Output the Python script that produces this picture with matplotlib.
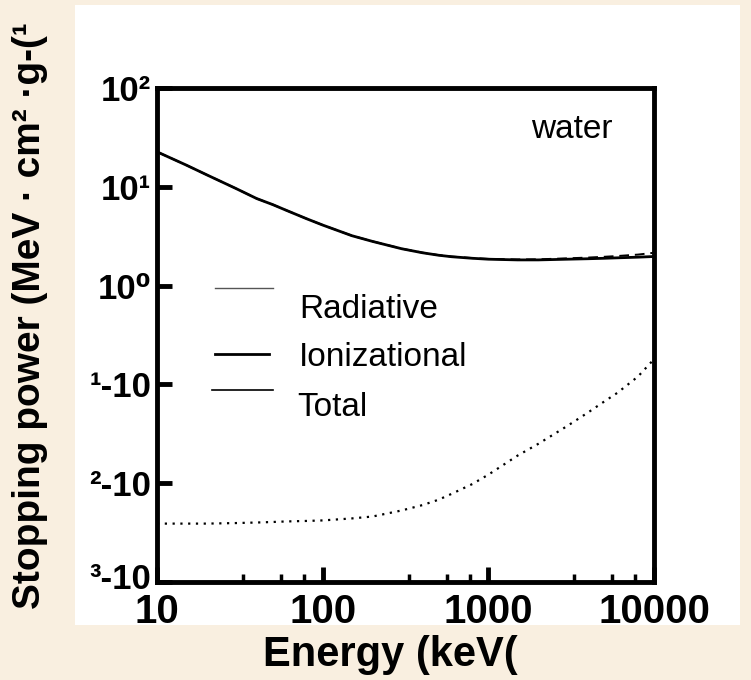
import matplotlib
matplotlib.use("Agg")
import matplotlib.pyplot as plt
import matplotlib.transforms as mtransforms
from matplotlib.lines import Line2D
from matplotlib.patches import Rectangle
import numpy as np

# energies in keV, stopping powers in MeV cm2/g
energy_kev = [10, 15, 20, 30, 40, 50, 60, 80, 100, 150, 200, 300, 400, 500,
              600, 800, 1000, 1500, 2000, 3000, 4000, 5000, 6000, 8000, 10000]
ionizational = [22.6, 16.6, 13.2, 9.6, 7.6, 6.6, 5.8, 4.75, 4.1, 3.2, 2.8,
                2.36, 2.15, 2.03, 1.96, 1.89, 1.85, 1.82, 1.82, 1.85, 1.87,
                1.89, 1.91, 1.94, 1.97]
radiative = [0.0039, 0.0039, 0.0039, 0.00395, 0.004, 0.00405, 0.0041,
             0.00415, 0.0042, 0.0044, 0.0046, 0.0053, 0.006, 0.0068, 0.0078,
             0.0098, 0.0122, 0.019, 0.025, 0.038, 0.052, 0.067, 0.082,
             0.12, 0.18]
total = [i + r for i, r in zip(ionizational, radiative)]

x_ticks = [10, 100, 1000, 10000]
x_tick_labels = ["10", "100", "1000", "10000"]
y_ticks = [1e2, 1e1, 1e0, 1e-1, 1e-2, 1e-3]
y_tick_labels = ["10\u00b2", "10\u00b9", "10\u2070", "\u00b9-10", "\u00b2-10", "\u00b3-10"]
legend_labels = ["Radiative", "Ionizational", "Total"]

BG = "#f9efe0"
FONT = ["Liberation Sans", "DejaVu Sans"]
plt.rcParams["font.family"] = FONT

fig = plt.figure(figsize=(7.51, 6.8), dpi=100, facecolor=BG)
fig.add_artist(Rectangle((75 / 751, 1 - 625 / 680), 665 / 751, 620 / 680,
                         transform=fig.transFigure, facecolor="white",
                         edgecolor="none", zorder=-5))

ax = fig.add_axes([157 / 751, 1 - 582 / 680, 497 / 751, 494 / 680])
ax.set_zorder(2)
ax.set_xscale("log")
ax.set_yscale("log")
ax.set_xlim(10, 10000)
ax.set_ylim(1e-3, 1e2)

ax.plot(energy_kev, ionizational, color="black", linewidth=2.0)
ax.plot(energy_kev, total, color="black", linewidth=1.4, linestyle=(0, (5, 3)))
ax.plot(energy_kev, radiative, color="black", linewidth=1.6, linestyle=(0, (1, 2.5)))

for spine in ax.spines.values():
    spine.set_linewidth(3.5)

ax.set_xticks(x_ticks, labels=x_tick_labels)
minor = [d * f for d in (10, 100, 1000) for f in (3.3, 5.6, 7.7)]
ax.set_xticks(minor, minor=True)
ax.xaxis.set_minor_formatter(matplotlib.ticker.NullFormatter())
ax.set_yticks(y_ticks, labels=y_tick_labels)
ax.yaxis.set_minor_locator(matplotlib.ticker.NullLocator())

ax.tick_params(axis="both", which="major", direction="in", length=11, width=3.5)
ax.tick_params(axis="x", which="minor", direction="in", length=6, width=2.5)
ax.tick_params(axis="x", which="major", pad=8, labelsize=29)
ax.tick_params(axis="y", which="major", pad=4, labelsize=25)
for lab in ax.get_xticklabels() + ax.get_yticklabels():
    lab.set_fontweight("bold")
ax.tick_params(top=False, right=False)

# lift the bottom y label a little so it clears the "10" below it
bottom_lab = ax.get_yticklabels()[-1]
bottom_lab.set_transform(bottom_lab.get_transform()
                         + mtransforms.ScaledTranslation(0, 6 / 100, fig.dpi_scale_trans))

# hand-placed legend, as in the original figure
legend_lines = [(0.117, 0.233, 0.595, "#555555", 1.0),
                (0.117, 0.225, 0.4615, "black", 2.0),
                (0.111, 0.233, 0.389, "black", 1.2)]
for (x0, x1, y, c, lw) in legend_lines:
    ax.add_line(Line2D([x0, x1], [y, y], transform=ax.transAxes, color=c, linewidth=lw))
for label, (tx, ty) in zip(legend_labels, [(0.286, 0.551), (0.286, 0.455), (0.282, 0.354)]):
    ax.text(tx, ty, label, transform=ax.transAxes, fontsize=24, va="center", ha="left")
ax.text(0.752, 0.915, "water", transform=ax.transAxes, fontsize=24, va="center", ha="left")

fig.text(390 / 751, 1 - 655 / 680, "Energy (keV(", fontsize=30, fontweight="bold",
         ha="center", va="center")
fig.text(30 / 751, 1 - 316 / 680, "Stopping power (MeV \u00b7 cm\u00b2 \u00b7g-(\u00b9",
         fontsize=28, fontweight="bold", rotation=90, ha="center", va="center")

fig.savefig("out.png", dpi=100, facecolor=BG)
